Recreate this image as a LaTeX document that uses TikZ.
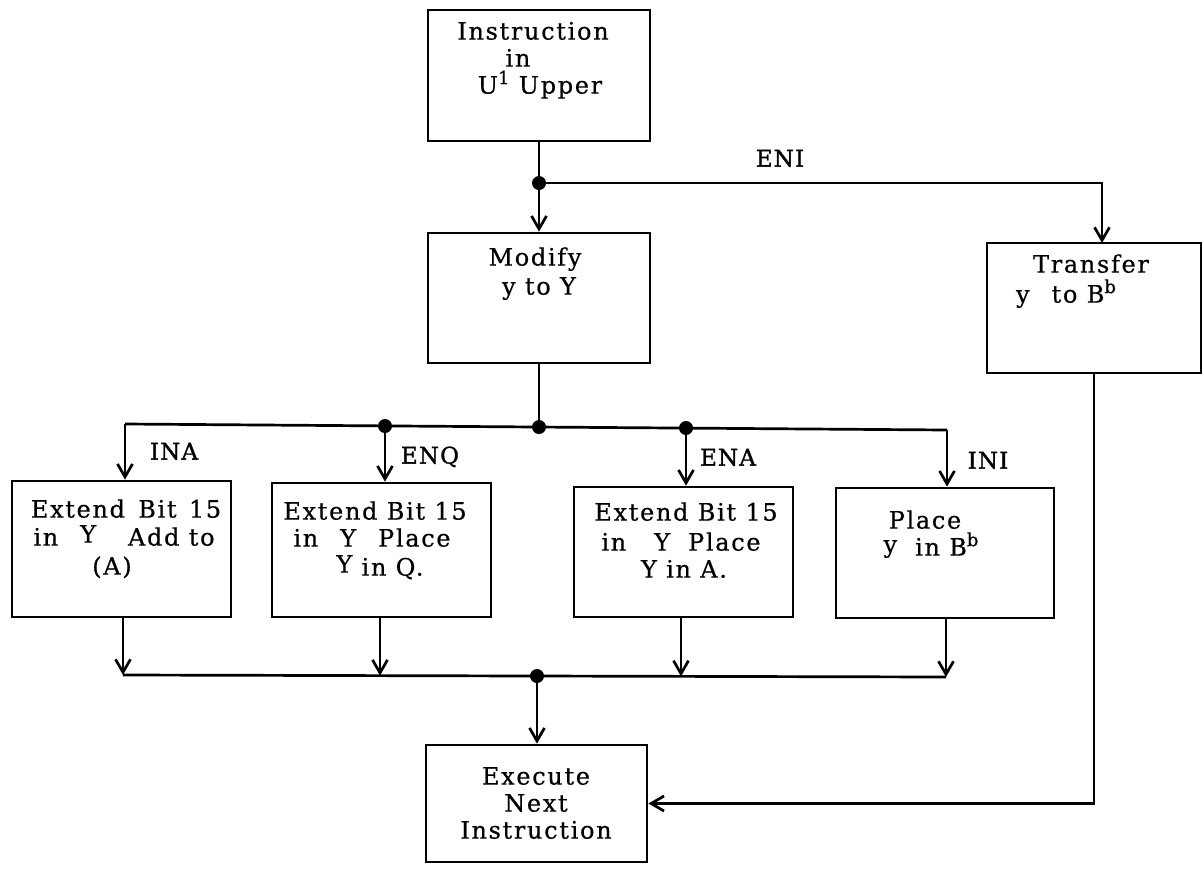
\documentclass[tikz,border=0pt]{standalone}
\usepackage{fontspec}
\setmainfont{DejaVu Serif}[LetterSpace=7,FakeBold=0.6]
\newfontfamily\lblfont{DejaVu Serif}[LetterSpace=5,FakeBold=1.3]
\usetikzlibrary{arrows.meta,calc}
% raised small index, as in U^1 and B^b
\newcommand\supr[1]{\raisebox{9.5pt}{\fontsize{18}{18}\selectfont #1}}
\newcommand\up[1]{\raisebox{3pt}{#1}}
\begin{document}
\begin{tikzpicture}[x=1pt,y=-1pt,
  line width=2.7pt,
  box/.style={draw, rectangle, inner sep=0pt, line width=2.7pt},
  txt/.style={inner sep=0pt, anchor=mid, font=\fontsize{24}{26}\selectfont},
  lbl/.style={inner sep=0pt, anchor=mid, font=\lblfont\fontsize{23}{25}\selectfont},
  flow/.style={-{Straight Barb[length=13pt,width=15pt]}}]
\useasboundingbox (0,0) rectangle (1203,871);

% boxes
\node[box, minimum width=222pt, minimum height=131pt] (top) at (539,75.5) {};
\node[box, minimum width=222pt, minimum height=130pt] (modify) at (539,298) {};
\node[box, minimum width=214pt, minimum height=130pt] (transfer) at (1094,308) {};
\node[box, minimum width=219pt, minimum height=136pt] (ina) at (121.5,549) {};
\node[box, minimum width=219pt, minimum height=134pt] (enq) at (381.5,550) {};
\node[box, minimum width=219pt, minimum height=130pt] (ena) at (683.5,552) {};
\node[box, minimum width=218pt, minimum height=130pt] (ini) at (945,553) {};
\node[box, minimum width=221pt, minimum height=117pt] (exec) at (536.5,803.5) {};

% box texts
\node[txt] (top1) at (533,37) {Instruction};
\node[txt] (top2) at (518,64) {in};
\node[txt] (top3) at (540,91) {U\supr{1} Upper};

\node[txt] (mod1) at (535,263) {Modify};
\node[txt] (mod2) at (539,292) {y to Y};

\node[txt] (tr1) at (1091,270) {Transfer};
\node[txt] (tr2) at (1066,300) {y\hspace{22pt}to B\supr{b}};

\node[txt] (ina1) at (126,515) {Extend\hspace{4pt} Bit\hspace{3pt} 15};
\node[txt] (ina2) at (124,543) {in\hspace{22pt}\up{Y}\hspace{32pt}Add to};
\node[txt] (ina3) at (112,572) {(A)};

\node[txt] (enq1) at (375,517) {Extend Bit 15};
\node[txt] (enq2) at (372,544) {in\hspace{22pt}Y\hspace{22pt}Place};
\node[txt] (enq3) at (380,573) {\up{Y} in Q.};

\node[txt] (ena1) at (686,518) {Extend Bit 15};
\node[txt] (ena2) at (681,548) {in\hspace{28pt}Y\hspace{18pt}Place};
\node[txt] (ena3) at (684,575) {Y in A.};

\node[txt] (ini1) at (925,526) {Place};
\node[txt] (ini2) at (931,553) {\up{y}\hspace{18pt}in B\supr{b}};

\node[txt] (ex1) at (536,782) {Execute};
\node[txt] (ex2) at (536,809) {Next};
\node[txt] (ex3) at (536,836) {Instruction};

% branch labels
\node[lbl] (eni) at (780,164) {ENI};
\node[lbl] (lina) at (174,457) {INA};
\node[lbl] (lenq) at (430,461) {ENQ};
\node[lbl] (lena) at (728,463) {ENA};
\node[lbl] (lini) at (988,466) {INI};

% junction points
\coordinate (j1) at (539,183);
\coordinate (tin) at (1102,243);
\coordinate (bl) at (125,424);
\coordinate (jq) at (385,426);
\coordinate (j2) at (539,427);
\coordinate (ja) at (686,428);
\coordinate (br) at (947,430);
\coordinate (cl) at (123,675);
\coordinate (cq) at (380,675.6);
\coordinate (j3) at (537,676);
\coordinate (ca) at (681,676.4);
\coordinate (cr) at (946,677);

% top split
\draw (top.south) -- (j1);
\draw[flow] (j1) -- (j1 |- modify.north);
\draw[flow] (j1) -| (tin);

% four-way split
\draw (modify.south) -- (j2);
\draw (bl) -- (br);
\draw[flow] (bl) -- (bl |- ina.north);
\draw[flow] (jq) -- (jq |- enq.north);
\draw[flow] (ja) -- (ja |- ena.north);
\draw[flow] (br) -- (br |- ini.north);

% merge
\draw[flow] (cl |- ina.south) -- (cl);
\draw[flow] (cq |- enq.south) -- (cq);
\draw[flow] (ca |- ena.south) -- (ca);
\draw[flow] (cr |- ini.south) -- (cr);
\draw (cl) -- (cr);
\draw[flow] (j3) -- (j3 |- exec.north);

% return from the transfer branch
\draw[flow] (transfer.south) |- (exec.east);

% junction dots
\foreach \p in {j1,jq,j2,ja,j3} \fill (\p) circle[radius=7pt];
\end{tikzpicture}
\end{document}
